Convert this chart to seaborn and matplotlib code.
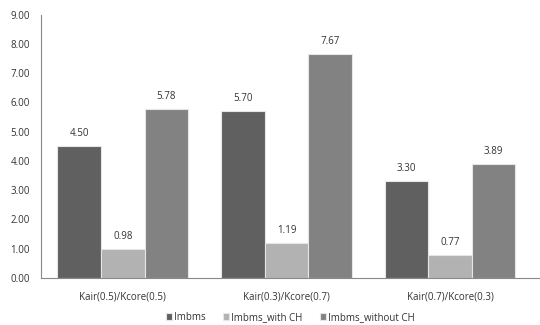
import matplotlib
matplotlib.use("Agg")
import matplotlib.pyplot as plt
import seaborn as sns
import pandas as pd

categories = ["Kair(0.5)/Kcore(0.5)", "Kair(0.3)/Kcore(0.7)", "Kair(0.7)/Kcore(0.3)"]
series_names = ["Imbms", "Imbms_with CH", "Imbms_without CH"]
imbms = [4.50, 5.70, 3.30]
imbms_with_ch = [0.98, 1.19, 0.77]
imbms_without_ch = [5.78, 7.67, 3.89]
y_ticks = [0, 1, 2, 3, 4, 5, 6, 7, 8, 9]
colors = ["#606060", "#b2b2b2", "#828282"]

sns.set_theme(style="white")
plt.rcParams["font.family"] = ["Open Sans", "DejaVu Sans"]

rows = []
for name, vals in zip(series_names, [imbms, imbms_with_ch, imbms_without_ch]):
    for cat, v in zip(categories, vals):
        rows.append({"category": cat, "series": name, "value": v})
df = pd.DataFrame(rows)

fig = plt.figure(figsize=(5.4, 3.25), dpi=100)
ax = fig.add_axes([0.076, 0.145, 0.924, 0.81])

sns.barplot(data=df, x="category", y="value", hue="series", order=categories,
            hue_order=series_names, palette=colors, width=0.8, ax=ax,
            edgecolor="#e6e6e6", linewidth=0.8, saturation=1, errorbar=None)

for cont in ax.containers:
    ax.bar_label(cont, fmt="%.2f", padding=5, fontsize=7, color="#333333")

ax.set_ylim(0, 9)
ax.set_yticks(y_ticks)
ax.set_yticklabels([f"{t:.2f}" for t in y_ticks], fontsize=7, color="#333333")
ax.tick_params(axis="x", labelsize=7, colors="#333333", pad=10, length=0)
ax.tick_params(axis="y", length=0, pad=8)
ax.set_xlim(-0.5, 2.55)
ax.set_xlabel("")
ax.set_ylabel("")
for s in ["top", "right"]:
    ax.spines[s].set_visible(False)
for s in ["left", "bottom"]:
    ax.spines[s].set_color("#888888")
    ax.spines[s].set_linewidth(0.8)

leg = ax.legend(loc="center", bbox_to_anchor=(0.5, -0.15), ncol=3,
                frameon=False, fontsize=7, handlelength=0.6, handleheight=0.6,
                handletextpad=0.2, columnspacing=1.8, borderaxespad=0, borderpad=0)
for t in leg.get_texts():
    t.set_color("#333333")

fig.savefig("out.png", dpi=100)
